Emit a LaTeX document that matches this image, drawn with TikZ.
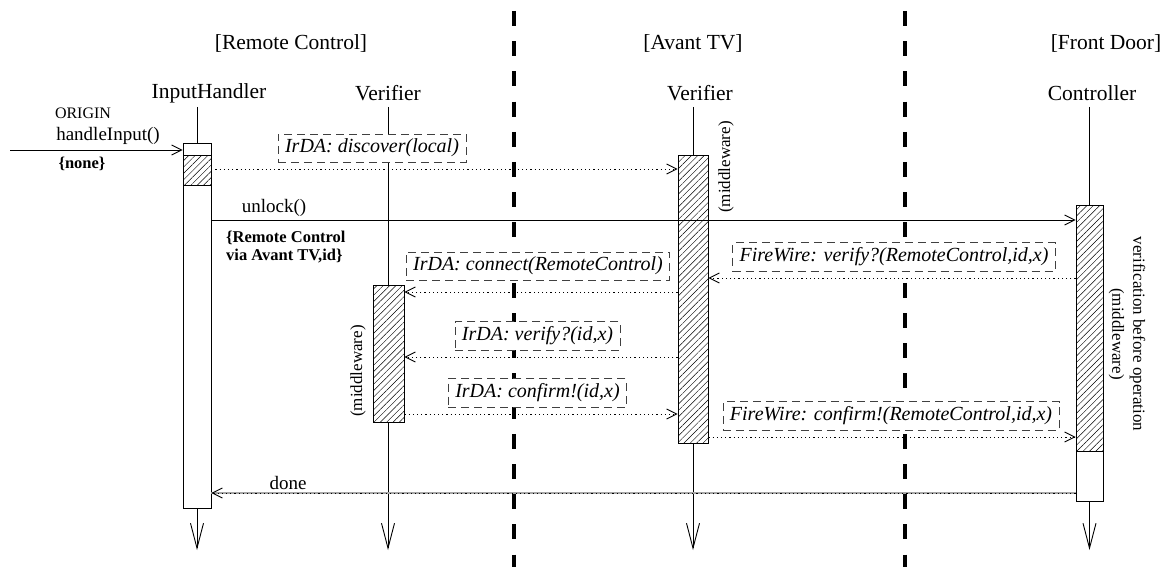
\documentclass[tikz,border=0pt]{standalone}
\usepackage{fontspec}
\setmainfont{Liberation Serif}
\usetikzlibrary{arrows.meta,patterns.meta}
\begin{document}
\begin{tikzpicture}[x=1pt,y=-1pt,
  hdr/.style={font=\fontsize{21.5}{25}\selectfont, inner sep=0pt},
  msgtxt/.style={font=\fontsize{19}{23}\selectfont, inner sep=0pt},
  small/.style={font=\fontsize{16}{19}\selectfont, inner sep=0pt},
  guard/.style={font=\bfseries\fontsize{16.5}{17.5}\selectfont, inner sep=0pt, align=left},
  note/.style={draw=black!75, fill=white, line width=0.8pt, dash pattern=on 8pt off 5pt,
    font=\itshape\fontsize{20}{23}\selectfont, inner xsep=7pt, inner ysep=5pt},
  rot/.style={font=\fontsize{17}{21}\selectfont, inner sep=0pt, align=center},
  life/.style={line width=0.9pt, -{Straight Barb[length=25pt,width=13pt]}},
  actbox/.style={draw, fill=white, line width=0.9pt, inner sep=0pt, anchor=north},
  hbox/.style={actbox, preaction={fill=white}, pattern={Lines[angle=45,distance=4.5pt,line width=0.45pt]}},
  call/.style={line width=0.9pt, -{Straight Barb[length=10pt,width=10pt]}},
  async/.style={call, dash pattern=on 1.2pt off 3pt},
  sep/.style={line width=4pt, dash pattern=on 15pt off 15.2pt}
]
\useasboundingbox (0,0) rectangle (1173,567);

% separators
\coordinate (s1t) at (514,11); \coordinate (s1b) at (514,567);
\coordinate (s2t) at (905,11); \coordinate (s2b) at (905,567);
\draw[sep] (s1t) -- (s1b);
\draw[sep] (s2t) -- (s2b);

% headers
\node[hdr] (hRC) at (291,43) {[Remote Control]};
\node[hdr] (hTV) at (693,43) {[Avant TV]};
\node[hdr] (hFD) at (1106,43) {[Front Door]};

% lifeline names
\node[hdr] (nIH) at (209,93) {InputHandler};
\node[hdr] (nRV) at (388,93) {Verifier};
\node[hdr] (nTV) at (700,93) {Verifier};
\node[hdr] (nCT) at (1092,93) {Controller};

% lifelines
\coordinate (tIH) at (197,107); \coordinate (bIH) at (197,550);
\coordinate (tRV) at (388,107); \coordinate (bRV) at (388,550);
\coordinate (tTV) at (693,107); \coordinate (bTV) at (693,550);
\coordinate (tCT) at (1089.5,107); \coordinate (bCT) at (1089.5,550);
\draw[life] (tIH) -- (bIH);
\draw[life] (tRV) -- (bRV);
\draw[life] (tTV) -- (bTV);
\draw[life] (tCT) -- (bCT);

% activation boxes
\node[actbox, minimum width=28pt, minimum height=12pt] (ih1) at (197,143) {};
\node[hbox, minimum width=28pt, minimum height=30pt] (ih2) at (197,155) {};
\node[actbox, minimum width=28pt, minimum height=323pt] (ih3) at (197,185) {};
\node[hbox, minimum width=30pt, minimum height=288pt] (tv) at (693,155) {};
\node[hbox, minimum width=31pt, minimum height=137pt] (rv) at (388.5,285) {};
\node[hbox, minimum width=27pt, minimum height=246pt] (ct1) at (1089.5,205) {};
\node[actbox, minimum width=27pt, minimum height=50pt] (ct2) at (1089.5,451) {};

% message levels
\coordinate (org) at (10,150);
\coordinate (y1) at (0,169);
\coordinate (y2) at (0,220);
\coordinate (y3) at (0,278);
\coordinate (y4) at (0,292);
\coordinate (y5) at (0,357);
\coordinate (y6) at (0,414);
\coordinate (y7) at (0,437);
\coordinate (y8) at (0,493);

% messages
\draw[call] (org) -- (org -| ih1.west);
\draw[async] (y1 -| ih2.east) -- (y1 -| tv.west);
\draw[call] (y2 -| ih3.east) -- (y2 -| ct1.west);
\draw[async] (y3 -| ct1.west) -- (y3 -| tv.east);
\draw[async] (y4 -| tv.west) -- (y4 -| rv.east);
\draw[async] (y5 -| tv.west) -- (y5 -| rv.east);
\draw[async] (y6 -| rv.east) -- (y6 -| tv.west);
\draw[async] (y7 -| tv.east) -- (y7 -| ct1.west);
\draw[line width=1.2pt, black!35] (y8 -| ct2.west) -- (y8 -| ih3.east);
\draw[async] (y8 -| ct2.west) -- (y8 -| ih3.east);

% labels
\node[small] (lorig) at (83,113) {ORIGIN};
\node[msgtxt] (lhi) at (108,136) {handleInput()};
\node[guard] (lnone) at (82,164) {\{none\}};
\node[msgtxt] (lunl) at (274,208) {unlock()};
\node[guard, anchor=west] (lrc) at (226,247) {\{Remote Control\\via Avant TV,id\}};
\node[msgtxt] (ldone) at (288,483) {done};

\node[note] (ndisc) at (372,148) {IrDA: discover(local)};
\node[note] (nfwv) at (894,257) {FireWire: verify?(RemoteControl,id,x)};
\node[note] (ncon) at (538,266) {IrDA: connect(RemoteControl)};
\node[note] (nver) at (537.5,336) {IrDA: verify?(id,x)};
\node[note] (ncnf) at (537.5,393) {IrDA: confirm!(id,x)};
\node[note] (nfwc) at (891,416) {FireWire: confirm!(RemoteControl,id,x)};

\node[rot, rotate=90] (mwTV) at (726,167) {(middleware)};
\node[rot, rotate=90] (mwRV) at (358,371) {(middleware)};
\node[rot, rotate=-90] (mwCT) at (1127,334) {verification before operation\\(middleware)};
\end{tikzpicture}
\end{document}
